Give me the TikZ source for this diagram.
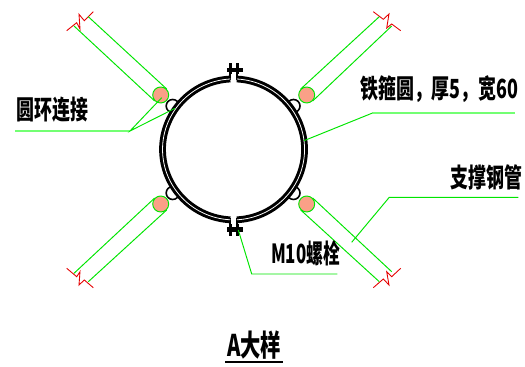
\documentclass[tikz,border=0pt]{standalone}
\usepackage{fontspec}
\setmainfont{Liberation Sans}
\newfontfamily\cjk{Noto Sans CJK SC}
\definecolor{discfill}{RGB}{250,160,135}
\begin{document}
\begin{tikzpicture}
[x=0.02cm,y=-0.02cm,
  ringdecorate/.style={draw=black,line width=1.7pt,double=white,double distance=0.45pt},
  flangedecorate/.style={draw=black,line width=1.1pt},
  loopdecorate/.style={draw=black,line width=0.9pt},
  tubedecorate/.style={draw=green!90!black,line width=0.55pt},
  leaderdecorate/.style={draw=green!90!black,line width=0.55pt},
  leaderthick/.style={draw=green!55!white,line width=1pt},
  breakdecorate/.style={draw=red!90!black,line width=0.5pt},
  discdecorate/.style={shape=circle,inner sep=0pt,minimum size=0.32cm,draw=green!90!black,fill=discfill,line width=0.55pt},
  labeldecorate/.style={inner sep=0pt,font=\cjk\bfseries\fontsize{15}{15}\selectfont,xscale=0.68,anchor=west},
  titledecorate/.style={inner sep=0pt,font=\cjk\bfseries\fontsize{17}{17}\selectfont,xscale=0.68,anchor=west}]
\useasboundingbox (0,0) rectangle (525,367);
% hoop
\coordinate (centre) at (234,149);
\draw[loopdecorate] (172.7,106) circle (6.5);
\draw[loopdecorate] (293.5,106) circle (6.5);
\draw[loopdecorate] (172.7,193) circle (6.5);
\draw[loopdecorate] (293.5,193) circle (6.5);
\fill[white] (centre) circle (71);
\draw[flangedecorate] (230.3,64) -- (230.3,80);
\draw[flangedecorate] (236.8,64) -- (236.8,80);
\draw[flangedecorate] (230.3,218) -- (230.3,235);
\draw[flangedecorate] (236.8,218) -- (236.8,235);
\draw[ringdecorate] (230.3,79) arc (-93:-267:71.5 and 70.5);
\draw[ringdecorate] (236.8,79) arc (-87:87:71.5 and 70.5);
% bolts
\fill[black] (226.5,68) rectangle (242.5,72);
\fill[black] (228.5,63) rectangle (231.5,74);
\fill[black] (235.5,63) rectangle (238.5,74);
\fill[black] (226.5,227) rectangle (242.5,232);
\fill[black] (228.5,224) rectangle (231.5,236);
\fill[black] (235.5,224) rectangle (238.5,236);
% discs
\node (discnw) at (160.7,95) [discdecorate] {};
\node (discne) at (306.7,95) [discdecorate] {};
\node (discsw) at (160.7,204) [discdecorate] {};
\node (discse) at (306.7,204) [discdecorate] {};
% break marks
\coordinate (nwa) at (88.3,16.7);
\coordinate (nwb) at (74,26);
\coordinate (nea) at (379.3,16.7);
\coordinate (neb) at (391.7,26);
\coordinate (swa) at (74,273.3);
\coordinate (swb) at (88.3,281.7);
\coordinate (sea) at (391.7,271.7);
\coordinate (seb) at (379.3,281.7);
\draw[breakdecorate] (66.7,30.7) -- (76.7,22.7) -- (80,29) -- (79,14.3) -- (84.3,20.7) -- (93.3,11.7);
\draw[breakdecorate] (373.3,11.7) -- (383.3,19.3) -- (389,14) -- (386.7,28) -- (391.7,24) -- (400.7,30.7);
\draw[breakdecorate] (66.7,268.3) -- (76.7,276.7) -- (80,271.7) -- (79,285) -- (84.3,280) -- (93.3,287.7);
\draw[breakdecorate] (373.3,287.7) -- (383.3,279) -- (389,285) -- (386.7,271.7) -- (391.7,276.7) -- (400.7,268.3);
% tubes
\path
(discnw.45) edge[tubedecorate] (nwa)
(discnw.225) edge[tubedecorate] (nwb)
(discne.135) edge[tubedecorate] (nea)
(discne.-45) edge[tubedecorate] (neb)
(discsw.135) edge[tubedecorate] (swa)
(discsw.-45) edge[tubedecorate] (swb)
(discse.45) edge[tubedecorate] (sea)
(discse.225) edge[tubedecorate] (seb);
% labels
\node (ringtext) at (16,110) [labeldecorate] {圆环连接};
\node (hooptext) at (360,89) [labeldecorate] {铁箍圆，厚5，宽60};
\node (tubetext) at (450,177) [labeldecorate] {支撑钢管};
\node (bolttext) at (271,253) [labeldecorate,xscale=0.94] {M10螺栓};
\node (titletext) at (227,345) [titledecorate] {A大样};
% leaders
\coordinate (ringa) at (15,131);
\coordinate (ringb) at (130,131);
\coordinate (ringc) at (161.7,97.7);
\coordinate (ringd) at (175,108.3);
\draw[leaderthick] (ringa) -- (ringb);
\draw[leaderdecorate] (ringc) -- (ringb) -- (ringd);
\coordinate (hoopa) at (304,140.7);
\coordinate (hoopb) at (373.3,112.7);
\coordinate (hoopc) at (515,112.7);
\draw[leaderdecorate] (hoopa) -- (hoopb);
\draw[leaderthick] (hoopb) -- (hoopc);
\coordinate (tubea) at (351.7,242.3);
\coordinate (tubeb) at (389.3,197.3);
\coordinate (tubec) at (518.3,197.3);
\draw[leaderdecorate] (tubea) -- (tubeb) -- (tubec);
\coordinate (bolta) at (238.3,230);
\coordinate (boltb) at (251.7,274);
\coordinate (boltc) at (337.3,274);
\draw[leaderdecorate] (bolta) -- (boltb) -- (boltc);
% title rule
\coordinate (rulea) at (225,362);
\coordinate (ruleb) at (283,362);
\draw[black,line width=0.9pt] (rulea) -- (ruleb);
\end{tikzpicture}
\end{document}
